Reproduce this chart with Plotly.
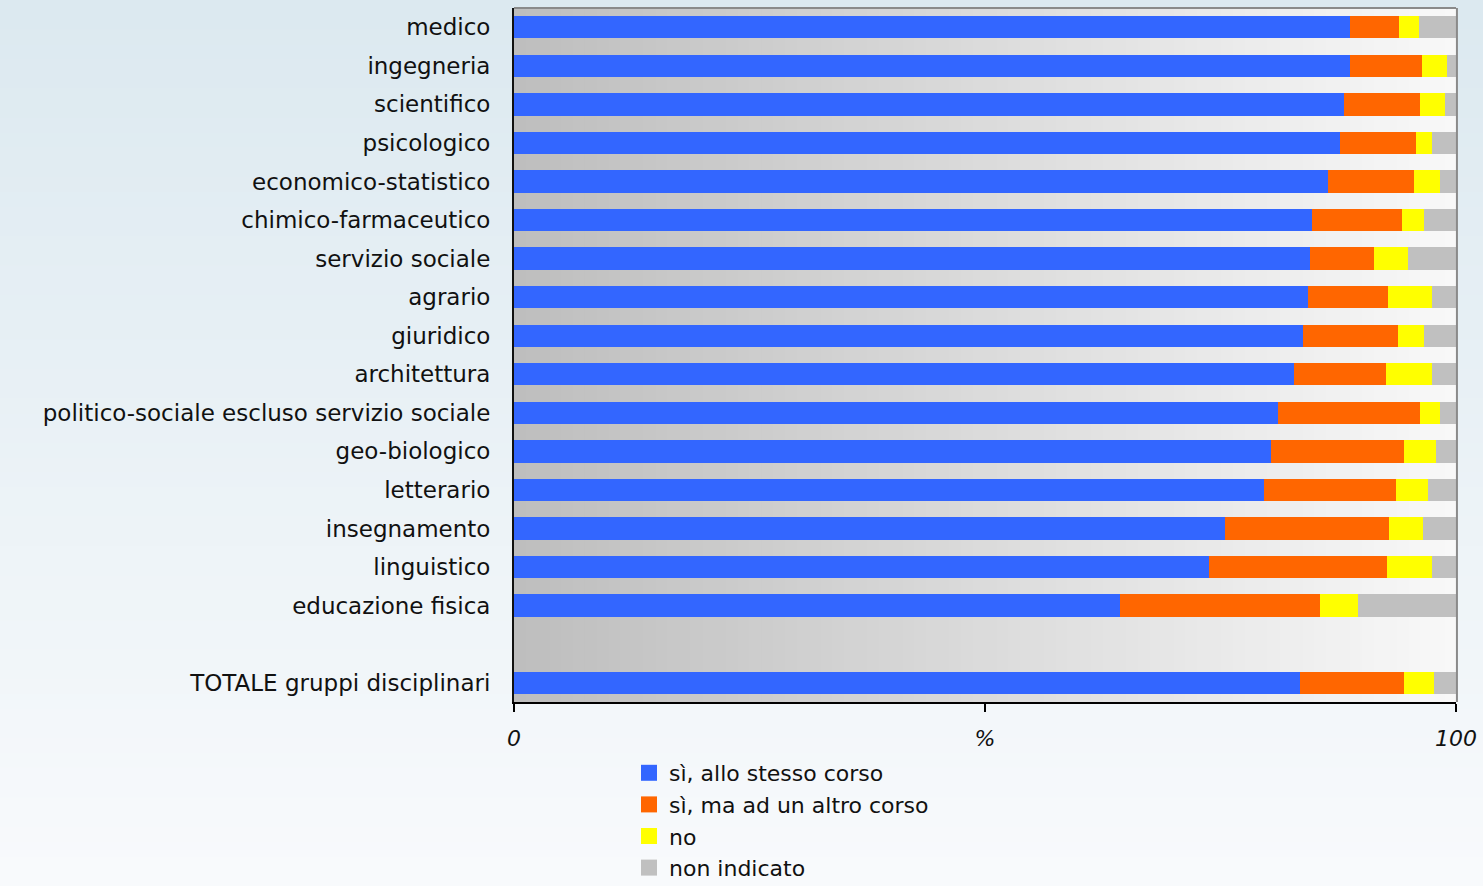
import plotly.graph_objects as go

# Gruppi disciplinari (the last entry is the overall total)
categories = [
    "medico", "ingegneria", "scientifico", "psicologico",
    "economico-statistico", "chimico-farmaceutico", "servizio sociale",
    "agrario", "giuridico", "architettura",
    "politico-sociale escluso servizio sociale", "geo-biologico",
    "letterario", "insegnamento", "linguistico", "educazione fisica",
    "TOTALE gruppi disciplinari",
]

# Percent shares per group
si_stesso_corso = [88.7, 88.7, 88.1, 87.7, 86.4, 84.7, 84.5, 84.3, 83.8,
                   82.8, 81.1, 80.4, 79.6, 75.5, 73.8, 64.3, 83.4]
si_altro_corso = [5.3, 7.7, 8.1, 8.1, 9.1, 9.6, 6.8, 8.5, 10.0,
                  9.8, 15.1, 14.1, 14.0, 17.4, 18.9, 21.3, 11.1]
no = [2.1, 2.6, 2.6, 1.7, 2.8, 2.3, 3.6, 4.7, 2.8,
      4.8, 2.1, 3.4, 3.4, 3.6, 4.7, 4.0, 3.2]
non_indicato = [3.9, 1.0, 1.2, 2.5, 1.7, 3.4, 5.1, 2.5, 3.4,
                2.6, 1.7, 2.1, 3.0, 3.5, 2.6, 10.4, 2.3]

series_names = ["sì, allo stesso corso", "sì, ma ad un altro corso", "no", "non indicato"]
x_tick_values = [0, 50, 100]
x_tick_labels = ["0", "%", "100"]

series = [si_stesso_corso, si_altro_corso, no, non_indicato]
colors = ["#3366ff", "#ff6600", "#ffff00", "#c0c0c0"]

# Row positions: one empty row separates the total from the groups
n = len(categories)
ypos = list(range(n - 1)) + [n]

FONT = "DejaVu Sans"
W, H = 1483, 886
ML, MR, MT, MB = 514, 27, 8, 184
PW, PH = W - ML - MR, H - MT - MB

fig = go.Figure()

for name, vals, col in zip(series_names, series, colors):
    fig.add_trace(go.Bar(
        y=ypos, x=vals, orientation="h", name=name,
        marker=dict(color=col, line=dict(width=0)),
        width=0.58, legendgroup=name, showlegend=False,
    ))
    # legend entry with a larger square swatch
    fig.add_trace(go.Scatter(
        x=[None], y=[None], mode="markers", name=name, legendgroup=name,
        marker=dict(symbol="square", size=16, color=col, line=dict(width=0)),
    ))

shapes = []

# page background: vertical blue-to-white gradient
steps = 60
top_c, bot_c = (220, 233, 240), (248, 250, 252)
y_top = 1 + MT / PH
y_bot = -MB / PH
for i in range(steps):
    t = i / (steps - 1)
    c = tuple(round(a + (b - a) * t) for a, b in zip(top_c, bot_c))
    y0 = y_top - (y_top - y_bot) * i / steps
    y1 = y_top - (y_top - y_bot) * (i + 1) / steps
    shapes.append(dict(
        type="rect", xref="paper", yref="paper", layer="below",
        x0=-ML / PW - 0.01, x1=1 + MR / PW + 0.01, y0=y1 - 0.003, y1=y0,
        fillcolor="rgb(%d,%d,%d)" % c, line=dict(width=0),
    ))

# plot area: horizontal grey-to-white gradient
steps = 80
for i in range(steps):
    t = i / (steps - 1)
    v = round(190 + (248 - 190) * t)
    shapes.append(dict(
        type="rect", xref="x domain", yref="y domain", layer="below",
        x0=i / steps, x1=(i + 1) / steps + 0.002, y0=0, y1=1,
        fillcolor="rgb(%d,%d,%d)" % (v, v, v), line=dict(width=0),
    ))

# grey frame on top and right edges
shapes.append(dict(type="line", xref="x domain", yref="y domain", layer="above",
                   x0=0, x1=1, y0=1, y1=1, line=dict(color="#8a8a8a", width=2)))
shapes.append(dict(type="line", xref="x domain", yref="y domain", layer="above",
                   x0=1.001, x1=1.001, y0=0, y1=1, line=dict(color="#8a8a8a", width=2)))

fig.update_layout(
    width=W, height=H,
    margin=dict(l=ML, r=MR, t=MT, b=MB, autoexpand=False),
    barmode="stack",
    paper_bgcolor="#f8fafc",
    plot_bgcolor="rgba(0,0,0,0)",
    font=dict(family=FONT, size=23, color="#111111"),
    shapes=shapes,
    showlegend=True,
    legend=dict(
        x=(629 - ML) / PW, y=(702 - 752) / PH, xanchor="left", yanchor="top",
        bgcolor="rgba(0,0,0,0)", borderwidth=0,
        font=dict(family=FONT, size=22, color="#111111"),
        traceorder="normal", tracegroupgap=0,
    ),
    xaxis=dict(
        range=[0, 100], tickmode="array",
        tickvals=x_tick_values, ticktext=x_tick_labels,
        tickfont=dict(family=FONT, size=22, style="italic", color="#111111"),
        ticks="outside", ticklen=8, tickwidth=2, tickcolor="#000000",
        ticklabelstandoff=8,
        showgrid=False, zeroline=False,
        showline=True, linecolor="#000000", linewidth=2,
        fixedrange=True,
    ),
    yaxis=dict(
        range=[n + 0.5, -0.5], tickmode="array",
        tickvals=ypos, ticktext=categories,
        tickfont=dict(family=FONT, size=23, color="#111111"),
        ticks="", ticklabelstandoff=17,
        showgrid=False, zeroline=False,
        showline=True, linecolor="#111111", linewidth=2,
        fixedrange=True,
    ),
)

fig.write_html("out.html")
